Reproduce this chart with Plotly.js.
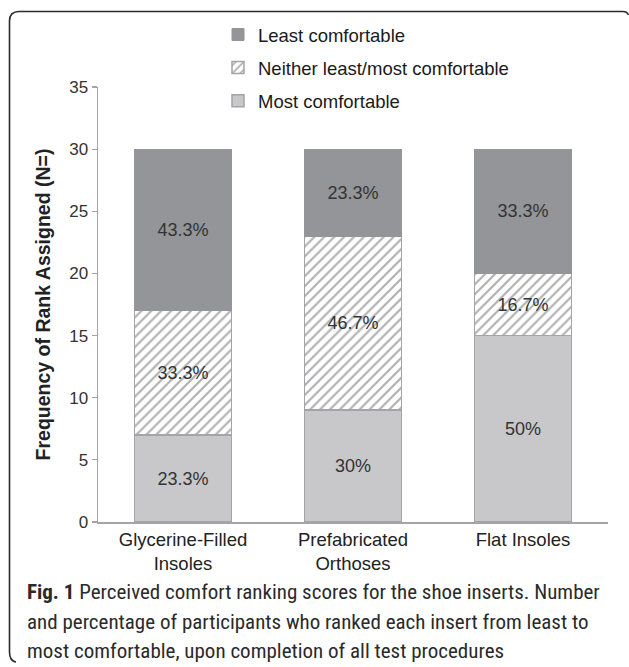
<!DOCTYPE html>
<html>
<head>
<meta charset="utf-8">
<script src="https://cdn.plot.ly/plotly-3.0.1.min.js"></script>
<style>
html,body{margin:0;padding:0;background:#fff;}
#wrap{position:relative;width:629px;height:667px;}
#chart{position:absolute;left:0;top:0;width:629px;height:667px;}
#frame{position:absolute;left:0;top:0;pointer-events:none;}
</style>
</head>
<body>
<div id="wrap">
<div id="chart"></div>
<svg id="frame" width="629" height="667">
<path d="M 16 662 Q 9.5 661 9.5 652 L 9.5 21 Q 9.5 11.5 19 11.5 L 623 11.5 Q 627 11.5 628.5 15" fill="none" stroke="#2a2a2a" stroke-width="1.6"/>
</svg>
</div>
<script>
var categories = ["Glycerine-Filled<br>Insoles", "Prefabricated<br>Orthoses", "Flat Insoles"];
var mostValues = [7, 9, 15];
var neitherValues = [10, 14, 5];
var leastValues = [13, 7, 10];
var mostLabels = ["23.3%", "30%", "50%"];
var neitherLabels = ["33.3%", "46.7%", "16.7%"];
var leastLabels = ["43.3%", "23.3%", "33.3%"];
var yTicks = [0, 5, 10, 15, 20, 25, 30, 35];
var captionLines = [
  "<b>Fig. 1</b> Perceived comfort ranking scores for the shoe inserts. Number",
  "and percentage of participants who ranked each insert from least to",
  "most comfortable, upon completion of all test procedures"
];

var FONT = "Liberation Sans, Arial, sans-serif";
var txtFont = {family: FONT, size: 18, color: "#333"};
var lineStyle = {color: "#a4a4a6", width: 1.5};

var traces = [
  {type: "bar", name: "Most comfortable", x: categories, y: mostValues, text: mostLabels,
   textposition: "inside", insidetextanchor: "middle", textangle: 0, textfont: txtFont,
   marker: {color: "#c8c8ca", line: lineStyle}, legendgroup: "m", legendrank: 3, hoverinfo: "none"},
  {type: "bar", name: "Neither least/most comfortable", x: categories, y: neitherValues, text: neitherLabels,
   textposition: "inside", insidetextanchor: "middle", textangle: 0, textfont: txtFont,
   marker: {color: "#ffffff", line: lineStyle,
            pattern: {shape: "/", fgcolor: "#b0b0b2", bgcolor: "#ffffff", size: 7, solidity: 0.3}},
   legendgroup: "n", legendrank: 2, hoverinfo: "none"},
  {type: "bar", name: "Least comfortable", x: categories, y: leastValues, text: leastLabels,
   textposition: "inside", insidetextanchor: "middle", textangle: 0, textfont: txtFont,
   marker: {color: "#939598", line: {color: "#939598", width: 1}}, legendgroup: "l", legendrank: 1, hoverinfo: "none"}
];

var annotations = captionLines.map(function (t, i) {
  return {xref: "paper", yref: "paper", x: (25 - 98) / 510, y: (522 - (592 + i * 29.5)) / 435,
          xanchor: "left", yanchor: "middle", align: "left", showarrow: false, text: t,
          font: {family: "Roboto Condensed, sans-serif", size: 21, color: "#2a2a2a"}};
});

var layout = {
  width: 629, height: 667,
  margin: {l: 98, r: 21, t: 87, b: 145},
  paper_bgcolor: "#fff", plot_bgcolor: "#fff",
  barmode: "stack", bargap: 0.43,
  font: {family: FONT, size: 16, color: "#333"},
  showlegend: true,
  legend: {x: (218 - 98) / 510, y: (522 - 16) / 435, xanchor: "left", yanchor: "top",
           orientation: "v", traceorder: "grouped", tracegroupgap: 6,
           font: {family: FONT, size: 18.5, color: "#1a1a1a"}, bgcolor: "rgba(0,0,0,0)",
           itemwidth: 30},
  xaxis: {type: "category", showline: true, linecolor: "#a4a4a6", linewidth: 1.5,
          ticks: "", showgrid: false, zeroline: false,
          tickfont: {family: FONT, size: 18.5, color: "#222"}},
  yaxis: {range: [0, 35], tickvals: yTicks, showline: true, linecolor: "#a4a4a6", linewidth: 1.5,
          ticks: "outside", ticklen: 5, tickcolor: "#a4a4a6", tickwidth: 1.2, showgrid: false, zeroline: false,
          tickfont: {family: FONT, size: 17, color: "#333"},
          title: {text: "<b>Frequency of Rank Assigned (N=)</b>", standoff: 13,
                  font: {family: FONT, size: 19.5, color: "#222"}}},
  annotations: annotations
};

Plotly.newPlot("chart", traces, layout, {displayModeBar: false, staticPlot: true});
</script>
</body>
</html>
